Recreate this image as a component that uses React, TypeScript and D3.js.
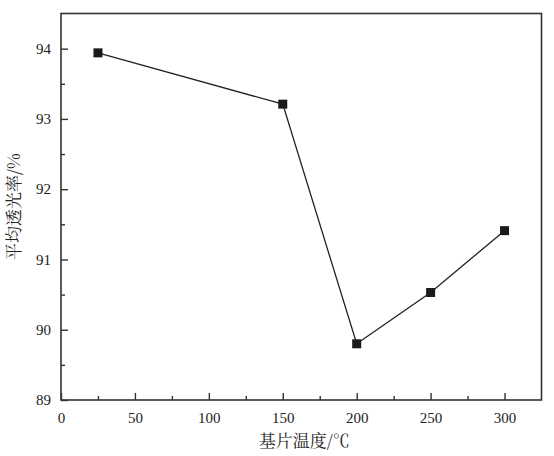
import { useEffect, useRef } from 'react';
import * as d3 from 'd3';

// substrate temperature (°C) vs. average transmittance (%)
const temperatures = [25, 150, 200, 250, 300];
const transmittance = [93.94, 93.21, 89.8, 90.53, 91.41];

const xTicks = [0, 50, 100, 150, 200, 250, 300];
const xMinorTicks = [25, 75, 125, 175, 225, 275];
const yTicks = [89, 90, 91, 92, 93, 94];
const yMinorTicks = [89.5, 90.5, 91.5, 92.5, 93.5];

const xLabel = '基片温度/℃';
const yLabel = '平均透光率/%';

export default function App() {
  const svgRef = useRef<SVGSVGElement>(null);

  useEffect(() => {
    if (!svgRef.current) return;
    d3.select(svgRef.current).selectAll('*').remove();

    const totalW = 554;
    const totalH = 456;
    const margin = { top: 13.5, right: 12.5, bottom: 56, left: 61 };
    const width = totalW - margin.left - margin.right;
    const height = totalH - margin.top - margin.bottom;

    const svg = d3.select(svgRef.current)
      .attr('width', totalW)
      .attr('height', totalH)
      .append('g')
      .attr('transform', `translate(${margin.left},${margin.top})`);

    const x = d3.scaleLinear().domain([0, 325]).range([0, width]);
    const y = d3.scaleLinear().domain([89, 94.5]).range([height, 0]);

    const numFont = 'Liberation Serif';
    const cjkFont = 'Noto Serif CJK SC';
    const axisColor = '#333';

    // frame
    svg.append('rect')
      .attr('x', 0)
      .attr('y', 0)
      .attr('width', width)
      .attr('height', height)
      .attr('fill', 'none')
      .attr('stroke', axisColor)
      .attr('stroke-width', 1.6);

    // x axis (ticks inward)
    const xAxis = svg.append('g')
      .attr('transform', `translate(0,${height})`)
      .call(d3.axisBottom(x).tickValues(xTicks).tickSize(-7).tickPadding(12).tickFormat(d3.format('d')));
    xAxis.attr('font-family', numFont).attr('font-size', '15px');
    xAxis.select('.domain').remove();
    xAxis.selectAll('line').attr('stroke', axisColor).attr('stroke-width', 1.4);
    xAxis.selectAll('text').attr('fill', '#222');

    const xMinor = svg.append('g')
      .attr('transform', `translate(0,${height})`)
      .call(d3.axisBottom(x).tickValues(xMinorTicks).tickSize(-4).tickFormat(() => ''));
    xMinor.select('.domain').remove();
    xMinor.selectAll('line').attr('stroke', axisColor).attr('stroke-width', 1.4);

    // y axis (ticks inward)
    const yAxis = svg.append('g')
      .call(d3.axisLeft(y).tickValues(yTicks).tickSize(-7).tickPadding(10).tickFormat(d3.format('d')));
    yAxis.attr('font-family', numFont).attr('font-size', '15px');
    yAxis.select('.domain').remove();
    yAxis.selectAll('line').attr('stroke', axisColor).attr('stroke-width', 1.4);
    yAxis.selectAll('text').attr('fill', '#222');

    const yMinor = svg.append('g')
      .call(d3.axisLeft(y).tickValues(yMinorTicks).tickSize(-4).tickFormat(() => ''));
    yMinor.select('.domain').remove();
    yMinor.selectAll('line').attr('stroke', axisColor).attr('stroke-width', 1.4);

    // line
    const points = temperatures.map((t, i) => ({ t, v: transmittance[i] }));
    const line = d3.line<{ t: number; v: number }>()
      .x(d => x(d.t))
      .y(d => y(d.v));

    svg.append('path')
      .datum(points)
      .attr('fill', 'none')
      .attr('stroke', '#222')
      .attr('stroke-width', 1.3)
      .attr('d', line);

    // square markers
    const size = 9;
    svg.selectAll('rect.marker')
      .data(points)
      .enter()
      .append('rect')
      .attr('class', 'marker')
      .attr('x', d => x(d.t) - size / 2)
      .attr('y', d => y(d.v) - size / 2)
      .attr('width', size)
      .attr('height', size)
      .attr('fill', '#1a1a1a');

    // axis labels
    svg.append('text')
      .attr('x', width / 2 + 3)
      .attr('y', height + 47)
      .attr('text-anchor', 'middle')
      .attr('fill', '#222')
      .attr('font-family', cjkFont)
      .attr('font-size', '17px')
      .text(xLabel);

    svg.append('text')
      .attr('transform', 'rotate(-90)')
      .attr('x', -(y(91.75)))
      .attr('y', -41)
      .attr('text-anchor', 'middle')
      .attr('fill', '#222')
      .attr('font-family', cjkFont)
      .attr('font-size', '17px')
      .text(yLabel);
  }, []);

  return (
    <div style={{ position: 'absolute', left: 0, top: 0, background: '#fff' }}>
      <svg ref={svgRef} style={{ display: 'block' }} />
    </div>
  );
}
